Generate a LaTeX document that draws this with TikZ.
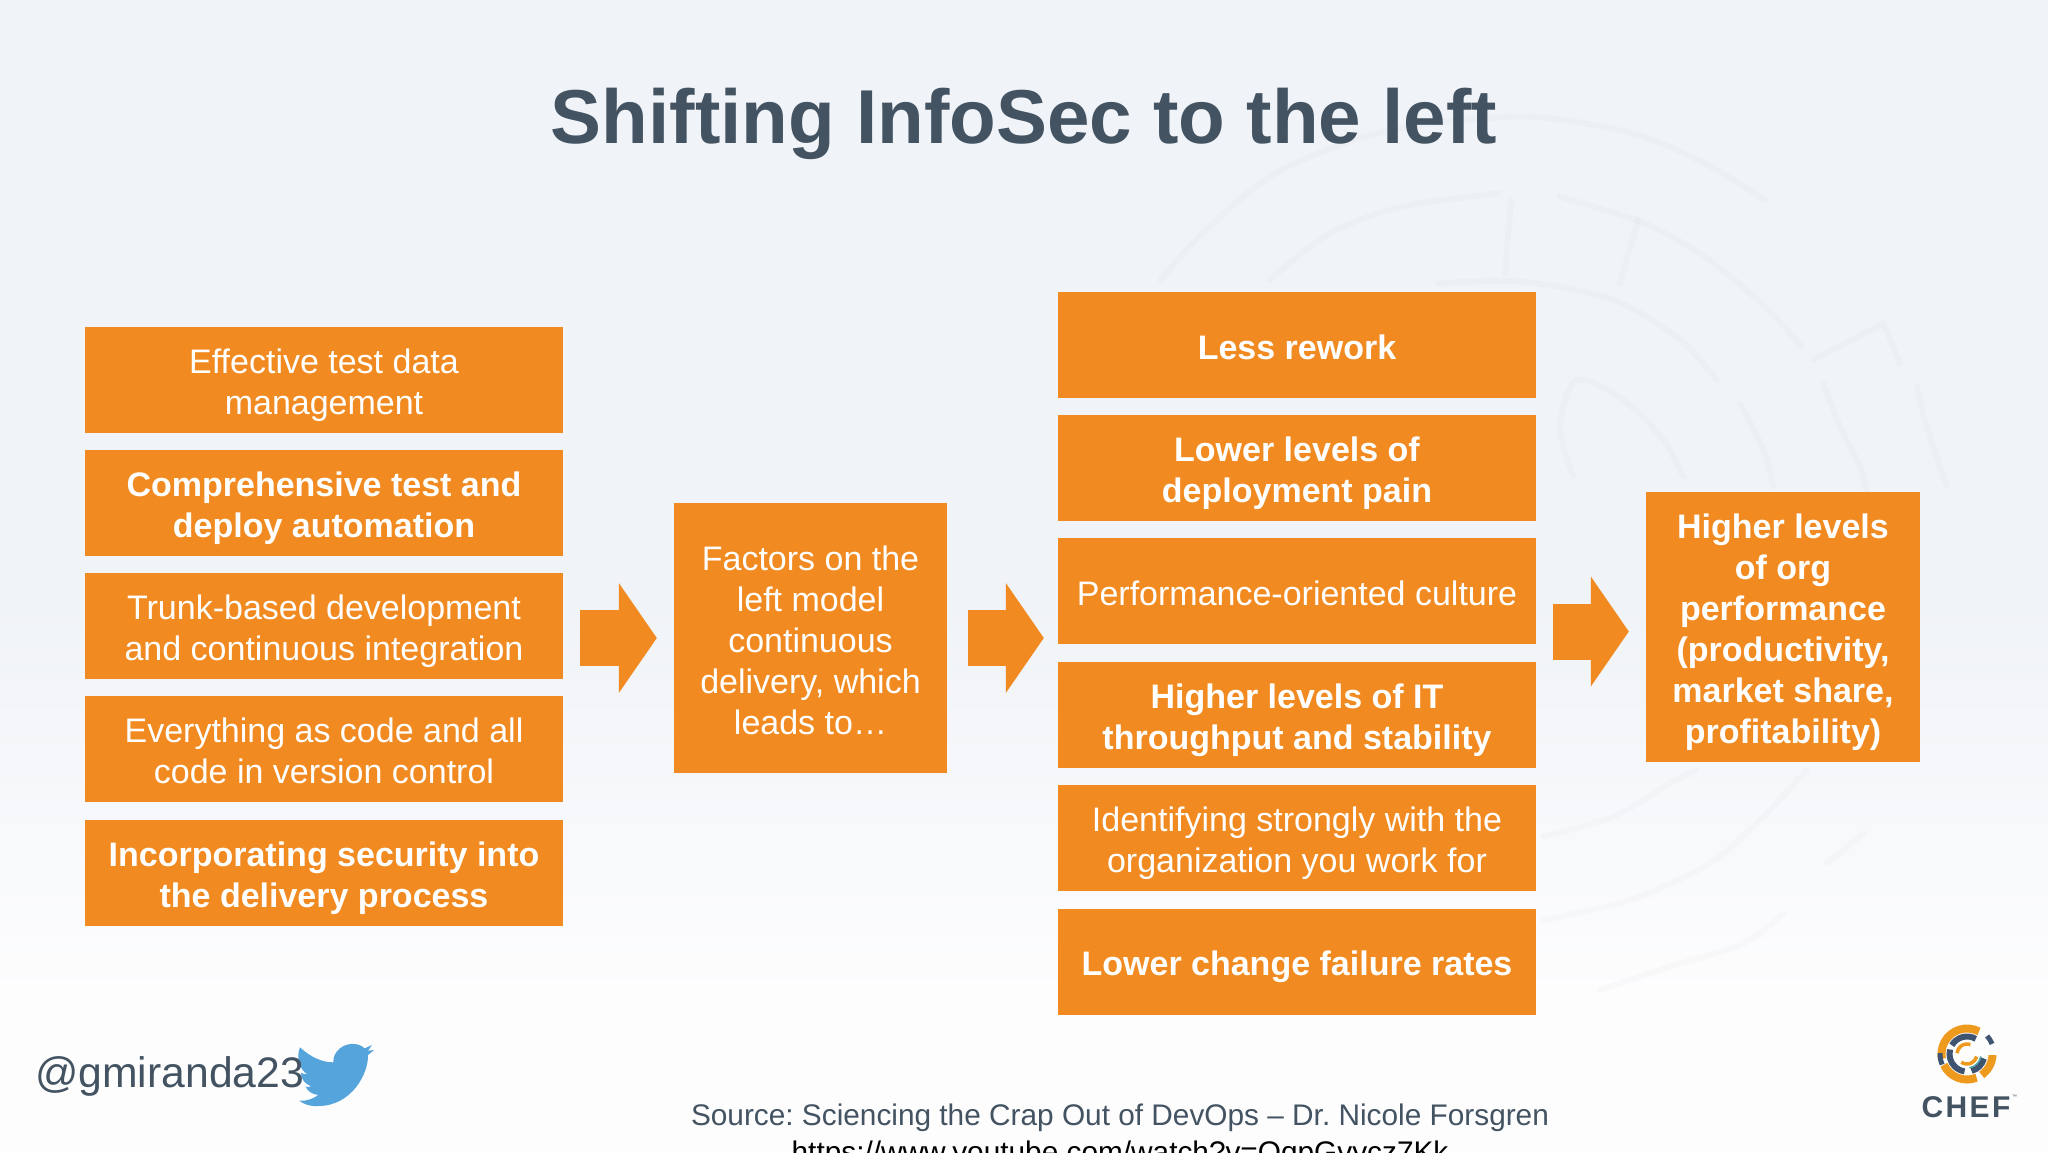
\documentclass[tikz,border=0pt]{standalone}
\usepackage{fontspec}
\setmainfont{Liberation Sans}
\newfontfamily\cheffont[LetterSpace=8]{Liberation Sans}
\usetikzlibrary{arrows.meta}
\definecolor{boxorange}{HTML}{F18B21}
\definecolor{slate}{HTML}{435362}
\definecolor{bgtop}{HTML}{F0F3F7}
\definecolor{bgbot}{HTML}{FDFDFE}
\definecolor{birdblue}{HTML}{55A4DC}
\definecolor{chefblue}{HTML}{3E5470}
\definecolor{chefgold}{HTML}{ED9A1E}
\definecolor{chefteal}{HTML}{4FA6A8}
\newcommand\tp{\rule{0pt}{35pt}}
\newcommand\bt{\rule[-7pt]{0pt}{7pt}}
\newcommand\chefarc[5]{\draw[#1,line width=#3pt] (1967,1054) ++(#4:#2pt) arc[start angle=#4,end angle=#5,radius=#2pt];}
\tikzset{
  x=1pt,y=-1pt,
  panel/.style={fill=boxorange,text=white,inner sep=0pt,align=center,font=\fontsize{34}{41}\selectfont},
  boldpanel/.style={panel,font=\fontsize{34}{41}\selectfont\bfseries},
  leftbox/.style={minimum width=478pt,minimum height=106pt},
  blockarrow/.style={boxorange,line width=56pt,-{Triangle[length=38pt,width=110pt,line width=0pt]}},
  wm/.style={black,draw opacity=0.014,line width=6pt,line cap=round},
}
\begin{document}
\frenchspacing
\begin{tikzpicture}
\useasboundingbox (0,0) rectangle (2048,1152);
\clip (0,0) rectangle (2048,1152);
\fill[bgtop] (0,0) rectangle (2048,600);
\shade[top color=bgtop,bottom color=bgbot] (0,600) rectangle (2048,1000);
\fill[bgbot] (0,1000) rectangle (2048,1152);
% watermark
\begin{scope}[shift={(1100,60)},x=0.6046pt,y=-0.3333pt]
\draw[wm] plot[smooth] coordinates {(100,660)(170,520)(290,340)(470,215)(700,170)(880,220)(1000,310)(1100,420)};
\draw[wm] plot[smooth] coordinates {(280,660)(380,520)(500,440)(660,400)};
\draw[wm] plot[smooth] coordinates {(760,410)(900,490)(1000,590)(1100,740)(1160,860)};
\draw[wm] plot[smooth] coordinates {(560,670)(700,665)(850,720)(960,840)(1020,960)};
\draw[wm] (680,420) -- (670,640);
\draw[wm] (890,480) -- (860,670);
\end{scope}
\begin{scope}[shift={(1530,200)},x=0.3333pt,y=-0.3333pt]
\draw[wm] (850,480) -- (1060,370) -- (1110,490);
\draw[wm] plot[smooth] coordinates {(130,830)(90,680)(140,540)(280,600)(400,720)(460,830)};
\draw[wm] plot[smooth] coordinates {(630,610)(700,750)(730,860)};
\draw[wm] plot[smooth] coordinates {(880,550)(930,680)(990,800)(1010,870)};
\draw[wm] plot[smooth] coordinates {(1160,560)(1190,680)(1250,860)};
\end{scope}
\begin{scope}[shift={(1530,760)},x=0.3333pt,y=-0.3333pt]
\draw[wm] plot[smooth] coordinates {(40,230)(250,170)(420,70)(500,30)};
\draw[wm] plot[smooth] coordinates {(40,480)(300,420)(540,310)(700,170)(830,30)};
\draw[wm] (890,310) -- (1000,220);
\draw[wm] plot[smooth] coordinates {(210,690)(420,620)(640,550)(760,460)};
\end{scope}

\node[font=\fontsize{76.4}{80}\selectfont\bfseries,text=slate,anchor=base] (title) at (1024,143) {Shifting InfoSec to the left};

\node[panel,leftbox]     (a1) at (324,380) {\tp Effective test data\\management\bt};
\node[boldpanel,leftbox] (a2) at (324,503) {\tp Comprehensive test and\\deploy automation\bt};
\node[panel,leftbox]     (a3) at (324,626) {\tp Trunk-based development\\and continuous integration\bt};
\node[panel,leftbox]     (a4) at (324,749) {\tp Everything as code and all\\code in version control\bt};
\node[boldpanel,leftbox] (a5) at (324,873) {\tp Incorporating security into\\the delivery process\bt};

\node[panel,minimum width=273pt,minimum height=270pt] (mid) at (810.5,638) {\tp Factors on the\\left model\\continuous\\delivery, which\\leads to…\bt};

\node[boldpanel,leftbox] (b1) at (1297,345) {\tp Less rework\bt};
\node[boldpanel,leftbox] (b2) at (1297,468) {\tp Lower levels of\\deployment pain\bt};
\node[panel,leftbox]     (b3) at (1297,591) {\tp Performance-oriented culture\bt};
\node[boldpanel,leftbox] (b4) at (1297,715) {\tp Higher levels of IT\\throughput and stability\bt};
\node[panel,leftbox]     (b5) at (1297,838) {\tp Identifying strongly with the\\organization you work for\bt};
\node[boldpanel,leftbox] (b6) at (1297,962) {\tp Lower change failure rates\bt};

\node[boldpanel,minimum width=274pt,minimum height=270pt] (res) at (1783,627) {\tp Higher levels\\of org\\performance\\(productivity,\\market share,\\profitability)\bt};

\draw[blockarrow] ([xshift=17pt]a3.east |- mid.west) -- ([xshift=-17pt]mid.west);
\draw[blockarrow] ([xshift=21pt]mid.east) -- ([xshift=-14pt]b3.west |- mid.east);
\draw[blockarrow] ([xshift=17pt,yshift=-4.5pt]b3.east |- res.west) -- ([xshift=-17pt,yshift=-4.5pt]res.west);

% bird
\begin{scope}[shift={(290,1030)},x=0.3333pt,y=-0.3333pt]
\fill[birdblue] (30,52) .. controls (60,80) and (95,97) .. (130,97)
  .. controls (128,65) and (160,38) .. (195,42)
  .. controls (208,43) and (218,50) .. (224,55)
  -- (246,45) -- (234,62) -- (252,60) -- (234,75)
  .. controls (236,130) and (185,228) .. (85,228)
  .. controls (60,230) and (40,222) .. (28,212)
  .. controls (50,214) and (70,206) .. (85,195)
  .. controls (65,193) and (52,182) .. (47,170)
  .. controls (52,171) and (58,171) .. (64,169)
  .. controls (45,163) and (32,146) .. (33,128)
  .. controls (38,131) and (44,133) .. (52,133)
  .. controls (28,118) and (18,82) .. (30,52) -- cycle;
\end{scope}
\node[font=\fontsize{42.7}{48}\selectfont,text=slate,anchor=base west,inner sep=0pt] (handle) at (35,1087) {@gmiranda23};

\node[font=\fontsize{29.8}{34}\selectfont,text=slate,anchor=base] (src) at (1120,1125) {Source: Sciencing the Crap Out of DevOps – Dr. Nicole Forsgren};
\node[font=\fontsize{29.8}{34}\selectfont,text=black,anchor=base] (url) at (1120,1162) {https://www.youtube.com/watch?v=QqpGvycz7Kk};

% chef logo
\chefarc{chefgold}{25.5}{8}{62}{190}
\chefarc{chefgold}{25.5}{8}{205}{292}
\chefarc{chefgold}{25.5}{8}{305}{358}
\chefarc{chefblue}{27}{5}{22}{42}
\chefarc{chefblue}{27}{5}{178}{203}
\chefarc{chefblue}{17.5}{6}{60}{150}
\chefarc{chefblue}{17.5}{6}{165}{262}
\chefarc{chefblue}{17.5}{6}{285}{345}
\chefarc{chefteal}{14}{1.5}{280}{350}
\chefarc{chefgold}{10}{3.5}{70}{175}
\chefarc{chefgold}{10}{3.5}{235}{345}
\fill[white] (1975,1051) rectangle (1996,1055);
\node[font=\cheffont\fontsize{30}{34}\selectfont\bfseries,text=slate,anchor=base] (chef) at (1966,1117) {CHEF};
\node[font=\fontsize{5}{6}\selectfont,text=slate,anchor=base west,inner sep=0pt] (tm) at (2012,1098) {™};
\end{tikzpicture}
\end{document}
